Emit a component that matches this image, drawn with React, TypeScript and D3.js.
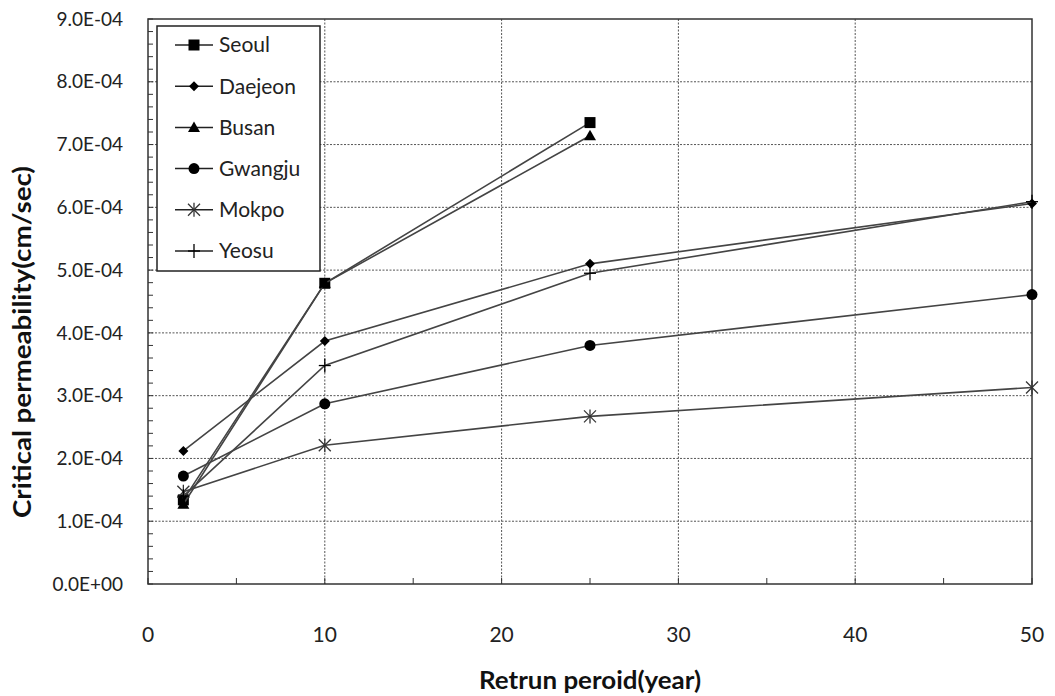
import React from "react";
import * as d3 from "d3";

const periods = [2, 10, 25, 50];
const seriesNames = ["Seoul", "Daejeon", "Busan", "Gwangju", "Mokpo", "Yeosu"];
const seoul = [1.34e-4, 4.79e-4, 7.35e-4];
const daejeon = [2.12e-4, 3.87e-4, 5.1e-4, 6.06e-4];
const busan = [1.27e-4, 4.79e-4, 7.14e-4];
const gwangju = [1.72e-4, 2.87e-4, 3.8e-4, 4.61e-4];
const mokpo = [1.47e-4, 2.21e-4, 2.67e-4, 3.13e-4];
const yeosu = [1.4e-4, 3.48e-4, 4.95e-4, 6.09e-4];
const seriesValues = [seoul, daejeon, busan, gwangju, mokpo, yeosu];
const markers = ["square", "diamond", "triangle", "circle", "star", "plus"];
const yTicks = [0, 1e-4, 2e-4, 3e-4, 4e-4, 5e-4, 6e-4, 7e-4, 8e-4, 9e-4];
const xTicks = [0, 10, 20, 30, 40, 50];

const W = 1055, H = 696;
const L = 148, R = 1032, T = 19, B = 584;
const FONT = "Lato, 'Open Sans', sans-serif";

function Marker({ type, x, y }: { type: string; x: number; y: number }) {
  if (type === "square") return <rect x={x - 5.5} y={y - 5.5} width={11} height={11} fill="#000" />;
  if (type === "diamond") return <path d={`M${x},${y - 5}L${x + 5},${y}L${x},${y + 5}L${x - 5},${y}Z`} fill="#000" />;
  if (type === "triangle") return <path d={`M${x},${y - 6}L${x + 6},${y + 4.5}L${x - 6},${y + 4.5}Z`} fill="#000" />;
  if (type === "circle") return <circle cx={x} cy={y} r={5.5} fill="#000" />;
  if (type === "star")
    return (
      <g stroke="#333" strokeWidth={1.3}>
        <line x1={x - 6} y1={y - 6} x2={x + 6} y2={y + 6} />
        <line x1={x - 6} y1={y + 6} x2={x + 6} y2={y - 6} />
        <line x1={x} y1={y - 7} x2={x} y2={y + 7} />
      </g>
    );
  return (
    <g stroke="#000" strokeWidth={1.3}>
      <line x1={x} y1={y - 7} x2={x} y2={y + 7} />
      <line x1={x - 6} y1={y} x2={x + 6} y2={y} />
    </g>
  );
}

export default function App() {
  const x = d3.scaleLinear().domain([0, 50]).range([L, R]);
  const y = d3.scaleLinear().domain([0, 9e-4]).range([B, T]);
  const line = d3
    .line<[number, number]>()
    .x((d) => x(d[0]))
    .y((d) => y(d[1]));
  const yMinor = d3.range(0, 9e-4 + 1e-9, 2e-5);
  const xMinor = d3.range(0, 51, 5);
  const fmt = (v: number) => (v === 0 ? "0.0E+00" : (v * 1e4).toFixed(1) + "E-04");

  return (
    <svg width={W} height={H} style={{ display: "block", position: "absolute", left: 0, top: 0 }}>
      <rect width={W} height={H} fill="#fff" />
      {/* grid */}
      {yTicks.slice(1, -1).map((t) => (
        <line key={"gy" + t} x1={L} x2={R} y1={y(t)} y2={y(t)} stroke="#555" strokeWidth={1} strokeDasharray="2,1.5" />
      ))}
      {xTicks.slice(1, -1).map((t) => (
        <line key={"gx" + t} x1={x(t)} x2={x(t)} y1={T} y2={B} stroke="#555" strokeWidth={1} strokeDasharray="2,1.5" />
      ))}
      {/* frame */}
      <rect x={L} y={T} width={R - L} height={B - T} fill="none" stroke="#333" strokeWidth={1.5} />
      {/* minor ticks */}
      {yMinor.map((t, i) => (
        <line key={"my" + i} x1={L} x2={L + 5} y1={y(t)} y2={y(t)} stroke="#333" strokeWidth={1} />
      ))}
      {xMinor.map((t, i) => (
        <line key={"mx" + i} x1={x(t)} x2={x(t)} y1={B} y2={B - 6} stroke="#333" strokeWidth={1} />
      ))}
      {/* tick labels */}
      {yTicks.map((t) => (
        <text key={"yl" + t} x={123} y={y(t)} dy="0.35em" textAnchor="end" fontFamily={FONT} fontSize={19} fill="#222">
          {fmt(t)}
        </text>
      ))}
      {xTicks.map((t) => (
        <text key={"xl" + t} x={x(t)} y={635} dy="0.35em" textAnchor="middle" fontFamily={FONT} fontSize={21} fill="#222">
          {t}
        </text>
      ))}
      <text
        x={x(25)}
        y={680}
        dy="0.35em"
        textAnchor="middle"
        fontFamily={FONT}
        fontSize={25}
        fontWeight="bold"
        fill="#111"
        textLength={222}
        lengthAdjust="spacingAndGlyphs"
      >
        Retrun peroid(year)
      </text>
      <text
        transform={`translate(22,342) rotate(-90)`}
        dy="0.35em"
        textAnchor="middle"
        fontFamily={FONT}
        fontSize={25}
        fontWeight="bold"
        fill="#111"
        textLength={352}
        lengthAdjust="spacingAndGlyphs"
      >
        Critical permeability(cm/sec)
      </text>
      {/* series */}
      {seriesValues.map((vals, si) => {
        const pts = vals.map((v, i) => [periods[i], v] as [number, number]);
        return (
          <g key={seriesNames[si]}>
            <path d={line(pts) || ""} fill="none" stroke="#444" strokeWidth={1.6} />
            {pts.map((p, i) => (
              <Marker key={i} type={markers[si]} x={x(p[0])} y={y(p[1])} />
            ))}
          </g>
        );
      })}
      {/* legend */}
      <rect x={157} y={26} width={163} height={245} fill="#fff" stroke="#222" strokeWidth={1.5} />
      {seriesNames.map((n, i) => {
        const ly = 45 + i * 41.2;
        return (
          <g key={"lg" + n}>
            <line x1={175} x2={213} y1={ly} y2={ly} stroke="#222" strokeWidth={1.5} />
            <Marker type={markers[i]} x={194} y={ly} />
            <text x={219} y={ly} dy="0.35em" fontFamily={FONT} fontSize={21} fill="#222">
              {n}
            </text>
          </g>
        );
      })}
    </svg>
  );
}
